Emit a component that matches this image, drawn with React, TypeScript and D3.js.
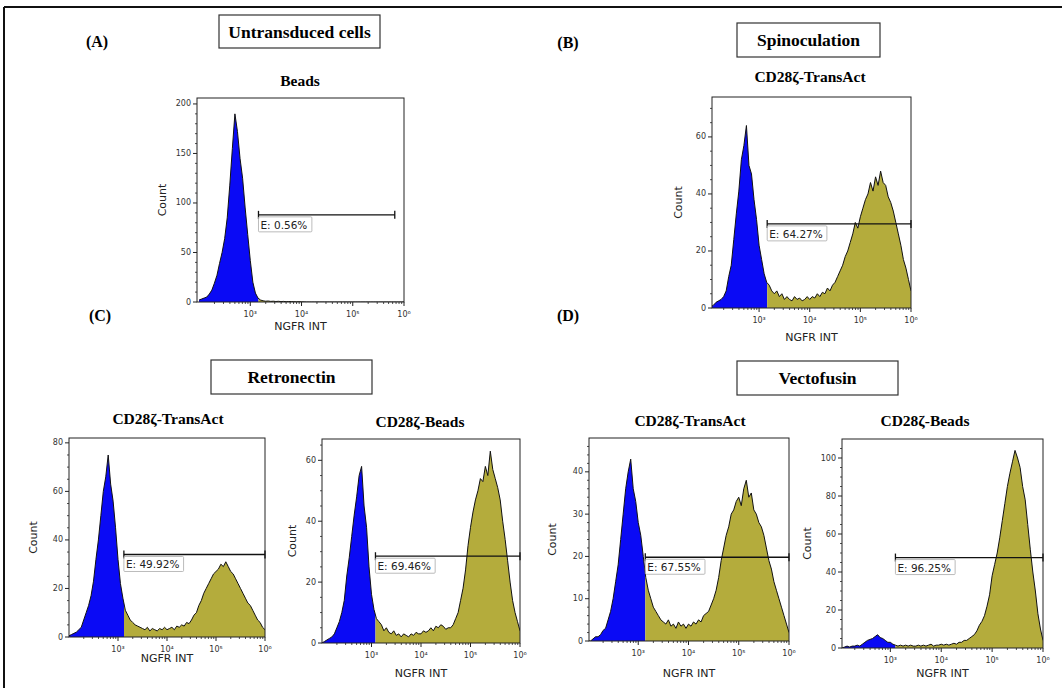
import React from "react";
import * as d3 from "d3";

// histogram bins: log10(NGFR intensity), 10^2 .. 10^6 in 0.05 decade steps
const binExponents = d3.range(0, 81).map((i) => 2 + i * 0.05);

const untransducedBeads = [
  2, 3, 4, 5, 8, 12, 19, 27, 39, 50,
  64, 85, 118, 155, 190, 172, 145, 125, 95, 68,
  42, 20, 9, 4, 2, 1.2, 0.8, 1, 0.6, 0.8,
  0.5, 0.7, 0.4, 0.6, 0.3, 0.5, 0.4, 0.3, 0.2, 0.3,
  0.2, 0.1, 0, 0, 0, 0, 0, 0, 0, 0,
  0, 0, 0, 0, 0, 0, 0, 0, 0, 0,
  0, 0, 0, 0, 0, 0, 0, 0, 0, 0,
  0, 0, 0, 0, 0, 0, 0, 0, 0, 0,
  0,
];

const spinTransAct = [
  0, 0.5, 1, 2, 2.5, 3, 4, 6, 11, 15,
  24, 33, 41, 52, 57, 64, 50, 47, 38, 31,
  22, 17, 12, 9, 8, 6, 5, 6, 4, 5,
  3, 4, 3, 2.5, 4, 3, 3.5, 2.5, 3, 4,
  3, 4, 3.5, 5, 4, 5.5, 5, 7, 6, 8,
  9, 11, 13, 15, 18, 20, 23, 26, 30, 28,
  32, 35, 38, 40, 44, 41, 46, 43, 48, 44,
  43, 39, 37, 34, 30, 26, 22, 17, 14, 10,
  6,
];

const retroTransAct = [
  0.5, 1, 1.5, 2, 3, 4, 7, 10, 13, 17,
  23, 32, 40, 50, 60, 66, 75, 63, 56, 45,
  32, 22, 16, 11, 9, 7, 6, 5, 4.5, 4,
  3.5, 3, 4, 2.5, 3.5, 3, 2.5, 3.5, 3, 4,
  3, 3.5, 4, 3, 4.5, 4, 5, 4.5, 6, 5.5,
  7, 9, 10, 13, 15, 18, 20, 22, 24, 26,
  27, 28, 30, 29, 31, 29, 27, 26, 24, 22,
  20, 18, 16, 14, 13, 11, 9, 7, 6, 4,
  3,
];

const retroBeads = [
  0, 0.5, 1, 1.5, 2, 3, 5, 7, 10, 14,
  22, 28, 35, 42, 48, 55, 58, 45, 38, 25,
  16, 11, 8, 7, 6, 4, 5, 3.5, 3, 4,
  2.5, 3, 2, 3, 2.5, 2, 3, 2.5, 3.5, 3,
  3, 4, 3.5, 4, 5, 4, 5.5, 5, 6, 5.5,
  4.5, 5, 5, 6, 8, 10, 14, 18, 24, 32,
  38, 43, 47, 50, 54, 53, 58, 55, 63, 57,
  54, 51, 47, 40, 34, 27, 20, 14, 10, 7,
  4,
];

const vectoTransAct = [
  0, 0, 0.5, 1, 1, 1.5, 2.5, 3, 5, 7,
  10, 14, 18, 24, 30, 36, 40, 43, 36, 33,
  28, 25, 20, 15, 12, 10, 8, 7, 6, 5,
  4.5, 4, 5, 3.5, 4, 3, 4.5, 3.5, 4, 3,
  4, 3.5, 4.5, 4, 5, 4.5, 6, 6.5, 7, 8.5,
  10, 12, 15, 19, 22, 25, 27, 30, 31, 33,
  34, 32, 36, 38, 34, 35, 31, 30, 28, 27,
  25, 22, 19, 17, 14, 12, 10, 8, 6, 4,
  2,
];

const vectoBeads = [
  0.5, 0, 0.5, 1, 0.5, 1, 1, 1.5, 1, 2,
  3, 4, 4.5, 5, 6, 7, 5.5, 5, 4, 3,
  3, 2, 1.5, 1, 1.5, 1, 1.5, 1, 1.5, 1,
  1, 1.5, 1, 1.5, 1, 1.5, 2, 1, 1.5, 1.5,
  2, 1.5, 2, 1.5, 2, 2.5, 2, 3, 3, 4,
  4, 5, 6, 7, 9, 12, 14, 17, 22, 28,
  38, 44, 50, 58, 67, 76, 85, 92, 98, 104,
  100, 95, 85, 78, 65, 52, 40, 30, 18, 10,
  4,
];

const gateLabels = ["E: 0.56%", "E: 64.27%", "E: 49.92%", "E: 69.46%", "E: 67.55%", "E: 96.25%"];
const panelTitles = ["Beads", "CD28ζ-TransAct", "CD28ζ-TransAct", "CD28ζ-Beads", "CD28ζ-TransAct", "CD28ζ-Beads"];
const decadeTicks = [3, 4, 5, 6];
const decadeLabels = ["10³", "10⁴", "10⁵", "10⁶"];

const BLUE = "#0a0af5";
const OLIVE = "#b4ac3c";
const SANS = "'DejaVu Sans', Verdana, sans-serif";
const SERIF = "'Liberation Serif', 'Times New Roman', serif";

const panels = [
  { counts: untransducedBeads, left: 197, right: 404, top: 98, bottom: 302, yMax: 206, yStep: 50, yMinor: 10, xMin: 1.96, gateY: 88, gateFrom: 3.16, gateTo: 5.82, titleX: 300, titleY: 80, countX: 162, axisLabelY: 326 },
  { counts: spinTransAct, left: 712, right: 911, top: 97, bottom: 308, yMax: 74, yStep: 20, yMinor: 5, xMin: 2.07, gateY: 29.5, gateFrom: 3.16, gateTo: 6, titleX: 810, titleY: 76, countX: 678, axisLabelY: 337 },
  { counts: retroTransAct, left: 69, right: 265, top: 438, bottom: 637, yMax: 82, yStep: 20, yMinor: 5, xMin: 2.0, gateY: 34, gateFrom: 3.12, gateTo: 6, titleX: 168, titleY: 418, countX: 33, axisLabelY: 658 },
  { counts: retroBeads, left: 322, right: 520, top: 439, bottom: 643, yMax: 67, yStep: 20, yMinor: 5, xMin: 2.0, gateY: 28.5, gateFrom: 3.08, gateTo: 6, titleX: 420, titleY: 421, countX: 292, axisLabelY: 673 },
  { counts: vectoTransAct, left: 589, right: 789, top: 438, bottom: 641, yMax: 48, yStep: 10, yMinor: 2, xMin: 2.02, gateY: 19.8, gateFrom: 3.14, gateTo: 6, titleX: 690, titleY: 420, countX: 552, axisLabelY: 673 },
  { counts: vectoBeads, left: 842, right: 1043, top: 439, bottom: 648, yMax: 110, yStep: 20, yMinor: 5, xMin: 2.05, gateY: 47.6, gateFrom: 3.1, gateTo: 6, titleX: 925, titleY: 420, countX: 807, axisLabelY: 673 },
];

const headings = [
  { text: "Untransduced cells", x: 219, y: 15, w: 161, h: 33 },
  { text: "Spinoculation", x: 737, y: 23, w: 143, h: 34 },
  { text: "Retronectin", x: 211, y: 360, w: 161, h: 34 },
  { text: "Vectofusin", x: 737, y: 361, w: 161, h: 34 },
];
const letters = [
  { text: "(A)", x: 97, y: 41 },
  { text: "(B)", x: 568, y: 42 },
  { text: "(C)", x: 100, y: 315 },
  { text: "(D)", x: 568, y: 315 },
];

function Histogram({ p, idx }) {
  const x = d3.scaleLinear().domain([p.xMin, 6]).range([p.left, p.right]);
  const y = d3.scaleLinear().domain([0, p.yMax]).range([p.bottom, p.top]);
  const pts = binExponents.map((e, i) => [e, p.counts[i]]);
  const area = d3.area().x((d) => x(d[0])).y0(y(0)).y1((d) => y(d[1]));
  const line = d3.line().x((d) => x(d[0])).y((d) => y(d[1]));
  const gx = x(p.gateFrom);
  const plotId = "plot" + idx;
  const blueId = "blue" + idx;
  const oliveId = "olive" + idx;

  const yMajor = d3.range(0, p.yMax + 0.001, p.yStep);
  const yMinor = d3.range(0, p.yMax, p.yMinor).filter((v) => v % p.yStep !== 0);
  const xMinor = [];
  for (let dec = 2; dec < 6; dec++) {
    for (let m = 2; m <= 9; m++) {
      const e = dec + Math.log10(m);
      if (e >= p.xMin) xMinor.push(e);
    }
  }
  const midY = (p.top + p.bottom) / 2;

  return (
    <g>
      <defs>
        <clipPath id={plotId}>
          <rect x={p.left} y={p.top} width={p.right - p.left} height={p.bottom - p.top} />
        </clipPath>
        <clipPath id={blueId}>
          <rect x={p.left} y={p.top} width={gx - p.left} height={p.bottom - p.top} />
        </clipPath>
        <clipPath id={oliveId}>
          <rect x={gx} y={p.top} width={p.right - gx} height={p.bottom - p.top} />
        </clipPath>
      </defs>
      <text x={p.titleX} y={p.titleY} textAnchor="middle" dominantBaseline="central"
        fontFamily={SERIF} fontWeight="bold" fontSize={15.5}>{panelTitles[idx]}</text>
      <g clipPath={`url(#${plotId})`}>
        <path d={area(pts)} fill={BLUE} clipPath={`url(#${blueId})`} />
        <path d={area(pts)} fill={OLIVE} clipPath={`url(#${oliveId})`} />
        <path d={line(pts)} fill="none" stroke="#111" strokeWidth={1} />
      </g>
      <rect x={p.left} y={p.top} width={p.right - p.left} height={p.bottom - p.top}
        fill="none" stroke="#222" strokeWidth={1} />
      {yMajor.map((v) => (
        <g key={"ym" + v}>
          <line x1={p.left - 4} x2={p.left} y1={y(v)} y2={y(v)} stroke="#222" />
          <text x={p.left - 6} y={y(v)} textAnchor="end" dominantBaseline="central"
            fontFamily={SANS} fontSize={8} fill="#333">{v}</text>
        </g>
      ))}
      {yMinor.map((v) => (
        <line key={"yn" + v} x1={p.left - 2} x2={p.left} y1={y(v)} y2={y(v)} stroke="#222" strokeWidth={0.8} />
      ))}
      {decadeTicks.map((e, i) => (
        <g key={"xm" + e}>
          <line x1={x(e)} x2={x(e)} y1={p.bottom} y2={p.bottom + 4} stroke="#222" />
          <text x={x(e)} y={p.bottom + 12} textAnchor="middle" dominantBaseline="central"
            fontFamily={SANS} fontSize={8} fill="#333">{decadeLabels[i]}</text>
        </g>
      ))}
      {xMinor.map((e) => (
        <line key={"xn" + e} x1={x(e)} x2={x(e)} y1={p.bottom} y2={p.bottom + 2} stroke="#222" strokeWidth={0.8} />
      ))}
      <text transform={`translate(${p.countX},${midY}) rotate(-90)`} textAnchor="middle"
        dominantBaseline="central" fontFamily={SANS} fontSize={11} fill="#222">Count</text>
      <text x={(p.left + p.right) / 2} y={p.axisLabelY} textAnchor="middle" dominantBaseline="central"
        fontFamily={SANS} fontSize={11} fill="#222">NGFR INT</text>
      <line x1={gx} x2={x(p.gateTo)} y1={y(p.gateY)} y2={y(p.gateY)} stroke="#111" strokeWidth={1.3} />
      <line x1={gx} x2={gx} y1={y(p.gateY) - 4} y2={y(p.gateY) + 4} stroke="#111" strokeWidth={1.3} />
      <line x1={x(p.gateTo)} x2={x(p.gateTo)} y1={y(p.gateY) - 4} y2={y(p.gateY) + 4} stroke="#111" strokeWidth={1.3} />
      <rect x={gx} y={y(p.gateY) + 2} width={gateLabels[idx].length * 6.3 + 3} height={15}
        fill="white" fillOpacity={0.6} stroke="#aaa" strokeWidth={0.8} rx={1} />
      <text x={gx + 2} y={y(p.gateY) + 10} dominantBaseline="central" fontFamily={SANS}
        fontSize={10.5} fill="#222">{gateLabels[idx]}</text>
    </g>
  );
}

export default function App() {
  return (
    <svg width={1062} height={688} style={{ position: "absolute", left: 0, top: 0, background: "white" }}>
      <line x1={4} x2={1062} y1={7} y2={7} stroke="#111" strokeWidth={2} />
      <line x1={4} x2={4} y1={7} y2={688} stroke="#111" strokeWidth={2} />
      {letters.map((l) => (
        <text key={l.text} x={l.x} y={l.y} textAnchor="middle" dominantBaseline="central"
          fontFamily={SERIF} fontWeight="bold" fontSize={16}>{l.text}</text>
      ))}
      {headings.map((h) => (
        <g key={h.text}>
          <rect x={h.x} y={h.y} width={h.w} height={h.h} fill="white" stroke="#333" strokeWidth={1.2} />
          <text x={h.x + h.w / 2} y={h.y + h.h / 2} textAnchor="middle" dominantBaseline="central"
            fontFamily={SERIF} fontWeight="bold" fontSize={17.5}>{h.text}</text>
        </g>
      ))}
      {panels.map((p, i) => (
        <Histogram key={i} p={p} idx={i} />
      ))}
    </svg>
  );
}
